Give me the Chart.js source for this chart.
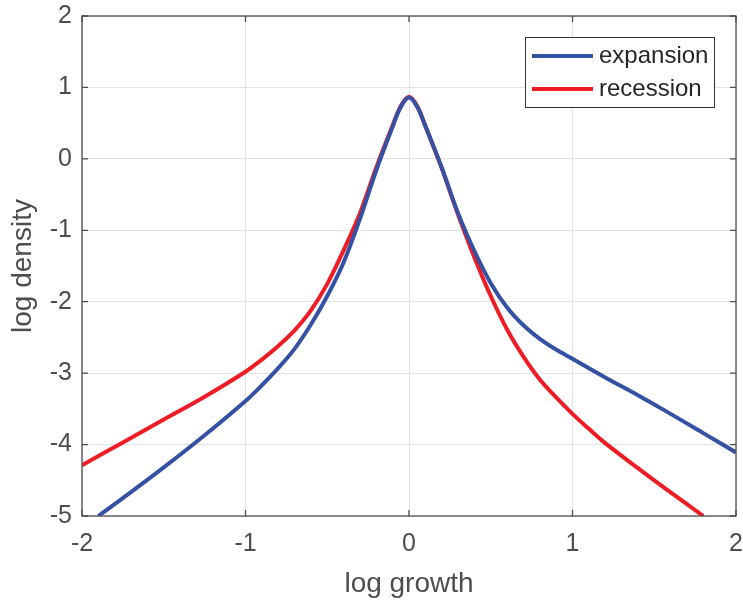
<!DOCTYPE html>
<html>
<head>
<meta charset="utf-8">
<script src="https://cdn.jsdelivr.net/npm/chart.js@4.4.1/dist/chart.umd.min.js"></script>
<style>
  html, body { margin: 0; padding: 0; background: #fff; }
  #wrap { width: 743px; height: 603px; }
</style>
</head>
<body>
<div id="wrap"><canvas id="chart"></canvas></div>
<script>
// values
const expansionX = [-1.9, -1.75, -1.5, -1.25, -1.0, -0.9, -0.8, -0.7, -0.6, -0.5, -0.4, -0.3, -0.2, -0.1, -0.05, 0, 0.05, 0.1, 0.2, 0.3, 0.4, 0.5, 0.6, 0.7, 0.8, 0.9, 1.0, 1.2, 1.4, 1.6, 1.8, 2.0];
const expansionY = [-5.0, -4.75, -4.32, -3.87, -3.39, -3.17, -2.93, -2.66, -2.32, -1.92, -1.45, -0.84, -0.16, 0.45, 0.73, 0.86, 0.73, 0.46, -0.12, -0.76, -1.29, -1.74, -2.08, -2.33, -2.52, -2.67, -2.80, -3.06, -3.31, -3.57, -3.84, -4.11];

const recessionX = [-2.0, -1.75, -1.5, -1.25, -1.0, -0.9, -0.8, -0.7, -0.6, -0.5, -0.4, -0.3, -0.2, -0.1, -0.05, 0, 0.05, 0.1, 0.2, 0.3, 0.4, 0.5, 0.6, 0.7, 0.8, 0.9, 1.0, 1.1, 1.2, 1.4, 1.6, 1.8];
const recessionY = [-4.29, -3.97, -3.65, -3.33, -2.98, -2.81, -2.62, -2.40, -2.12, -1.75, -1.28, -0.76, -0.12, 0.47, 0.74, 0.87, 0.74, 0.46, -0.13, -0.78, -1.38, -1.92, -2.39, -2.77, -3.09, -3.34, -3.57, -3.78, -3.98, -4.33, -4.67, -5.0];

const seriesNames = ['expansion', 'recession'];
const seriesColors = ['#3451a3', '#ee1c25'];
const xTicks = [-2, -1, 0, 1, 2];
const yTicks = [-5, -4, -3, -2, -1, 0, 1, 2];

const FONT = '"Liberation Sans", Arial, sans-serif';
const AXIS_COLOR = '#4d4d4d';

function toPoints(xs, ys) {
    return xs.map((x, i) => ({ x: x, y: ys[i] }));
}

// box around the plot, inward ticks on all four sides, legend inside top-right
const boxPlugin = {
    id: 'box',
    afterDraw(chart) {
        const ctx = chart.ctx;
        const a = chart.chartArea;
        const xs = chart.scales.x;
        const ys = chart.scales.y;
        ctx.save();
        ctx.strokeStyle = AXIS_COLOR;
        ctx.lineWidth = 1.3;
        ctx.strokeRect(a.left, a.top, a.right - a.left, a.bottom - a.top);
        const t = 6;
        ctx.beginPath();
        xTicks.forEach(v => {
            const px = xs.getPixelForValue(v);
            ctx.moveTo(px, a.bottom); ctx.lineTo(px, a.bottom - t);
            ctx.moveTo(px, a.top); ctx.lineTo(px, a.top + t);
        });
        yTicks.forEach(v => {
            const py = ys.getPixelForValue(v);
            ctx.moveTo(a.left, py); ctx.lineTo(a.left + t, py);
            ctx.moveTo(a.right, py); ctx.lineTo(a.right - t, py);
        });
        ctx.stroke();

        // legend
        const lx = 525, ly = 37, lw = 189, lh = 70;
        ctx.fillStyle = '#fff';
        ctx.fillRect(lx, ly, lw, lh);
        ctx.strokeStyle = '#333';
        ctx.lineWidth = 1;
        ctx.strokeRect(lx + 0.5, ly + 0.5, lw, lh);
        ctx.font = '24px ' + FONT;
        ctx.textBaseline = 'middle';
        chart.data.datasets.forEach((ds, i) => {
            const yy = ly + 19 + i * 33;
            ctx.strokeStyle = ds.borderColor;
            ctx.lineWidth = 4;
            ctx.beginPath();
            ctx.moveTo(lx + 7, yy);
            ctx.lineTo(lx + 68, yy);
            ctx.stroke();
            ctx.fillStyle = '#262626';
            ctx.fillText(ds.label, lx + 74, yy);
        });
        ctx.restore();
    }
};

const ctx = document.getElementById('chart').getContext('2d');
new Chart(ctx, {
    type: 'line',
    data: {
        datasets: [
            {
                label: seriesNames[0],
                data: toPoints(expansionX, expansionY),
                borderColor: seriesColors[0],
                borderWidth: 4,
                pointRadius: 0,
                tension: 0.35
            },
            {
                label: seriesNames[1],
                data: toPoints(recessionX, recessionY),
                borderColor: seriesColors[1],
                borderWidth: 4,
                pointRadius: 0,
                tension: 0.35
            }
        ]
    },
    options: {
        responsive: true,
        maintainAspectRatio: false,
        animation: false,
        layout: { padding: { top: 16, right: 7, left: 0, bottom: 0 } },
        plugins: {
            legend: { display: false },
            tooltip: { enabled: false }
        },
        scales: {
            x: {
                type: 'linear',
                min: -2,
                max: 2,
                afterBuildTicks: scale => { scale.ticks = xTicks.map(v => ({ value: v })); },
                afterFit: scale => {
                    scale.height = 87;
                    scale.paddingLeft = 0;
                    scale.paddingRight = 0;
                },
                grid: { color: '#e3e3e3', lineWidth: 1, drawTicks: false },
                border: { display: false },
                ticks: {
                    color: AXIS_COLOR,
                    font: { family: FONT, size: 25 },
                    padding: 13,
                    maxRotation: 0
                },
                title: {
                    display: true,
                    text: 'log growth',
                    color: AXIS_COLOR,
                    font: { family: FONT, size: 28 },
                    padding: { top: 0, bottom: 2 }
                }
            },
            y: {
                type: 'linear',
                min: -5,
                max: 2,
                afterBuildTicks: scale => { scale.ticks = yTicks.map(v => ({ value: v })); },
                afterFit: scale => {
                    scale.width = 82;
                    scale.paddingTop = 0;
                    scale.paddingBottom = 0;
                },
                grid: { color: '#e3e3e3', lineWidth: 1, drawTicks: false },
                border: { display: false },
                ticks: {
                    color: AXIS_COLOR,
                    font: { family: FONT, size: 25 },
                    padding: 10
                },
                title: {
                    display: true,
                    text: 'log density',
                    color: AXIS_COLOR,
                    font: { family: FONT, size: 28 },
                    padding: { top: 6, bottom: 0 }
                }
            }
        }
    },
    plugins: [boxPlugin]
});
</script>
</body>
</html>
